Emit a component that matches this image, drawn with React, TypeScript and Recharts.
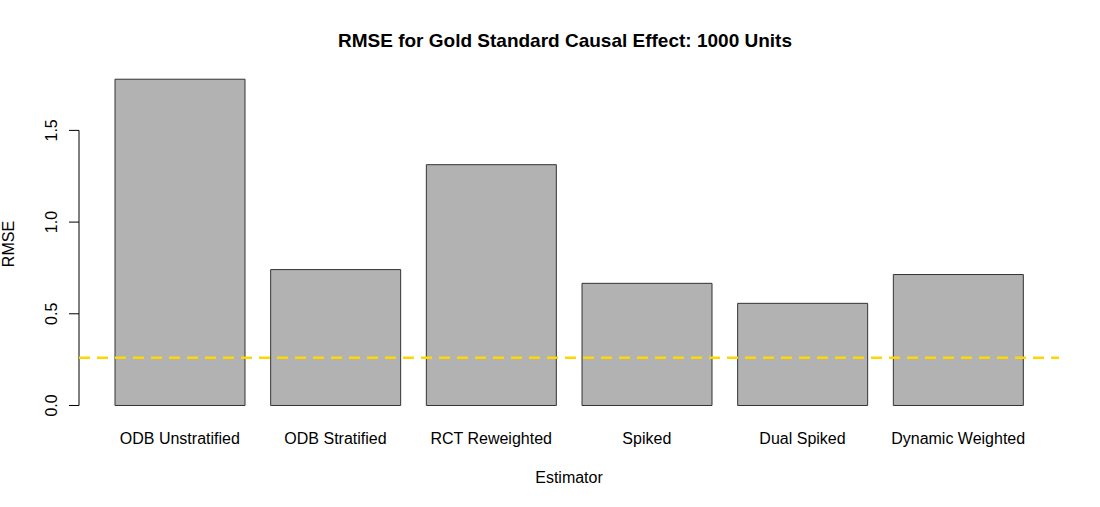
import React from 'react';
import { BarChart, Bar, XAxis, YAxis, ReferenceLine } from 'recharts';

const estimators = ['ODB Unstratified', 'ODB Stratified', 'RCT Reweighted', 'Spiked', 'Dual Spiked', 'Dynamic Weighted'];
const rmse = [1.779, 0.741, 1.313, 0.666, 0.557, 0.714];
const yTicks = [0, 0.5, 1.0, 1.5];
const goldStandard = 0.26;

const FONT = '"Liberation Sans", Arial, Helvetica, sans-serif';

const data = estimators.map((name, i) => ({ name, rmse: rmse[i] }));

function XTick({ x, y, payload }: any) {
    return (
        <text x={x} y={y + 22} textAnchor="middle" fontSize={16} fontFamily={FONT} fill="#000">
            {payload.value}
        </text>
    );
}

function YTick({ x, y, payload }: any) {
    const bx = x - 12;
    return (
        <text x={bx} y={y} transform={`rotate(-90, ${bx}, ${y})`} textAnchor="middle" fontSize={16} fontFamily={FONT} fill="#000">
            {payload.value.toFixed(1)}
        </text>
    );
}

export default function App() {
    return (
        <div style={{ position: 'relative', width: 1100, height: 507, background: '#fff', fontFamily: FONT }}>
            <style>{'body{margin:0}'}</style>
            <div style={{ position: 'absolute', left: 0, width: 1130, top: 30, textAlign: 'center', fontSize: 19, fontWeight: 'bold', lineHeight: '22px' }}>
                RMSE for Gold Standard Causal Effect: 1000 Units
            </div>
            <div style={{ position: 'absolute', left: 0, width: 1138, top: 468, textAlign: 'center', fontSize: 16, lineHeight: '20px' }}>
                Estimator
            </div>
            <div style={{ position: 'absolute', left: -41, top: 234, width: 100, textAlign: 'center', fontSize: 16, lineHeight: '20px', transform: 'rotate(-90deg)' }}>
                RMSE
            </div>
            <BarChart width={1100} height={507} data={data} margin={{ top: 66, right: 41, left: 0, bottom: 0 }} style={{ position: 'absolute', left: 0, top: 0 }}>
                <XAxis dataKey="name" height={85} axisLine={false} tickLine={false} tickSize={0} tickMargin={0}
                    padding={{ left: 23, right: 23 }} tick={<XTick />} interval={0} />
                <XAxis xAxisId="frame" type="number" domain={[0, 1]} hide allowDataOverflow />
                <YAxis width={79} domain={[-0.09, 1.851]} ticks={yTicks} axisLine={false} tickSize={10} tickMargin={0}
                    tickLine={{ stroke: '#000', strokeWidth: 1 }} tick={<YTick />} allowDataOverflow />
                <ReferenceLine xAxisId="frame" segment={[{ x: 0, y: 0 }, { x: 0, y: 1.5 }]} stroke="#000" strokeWidth={1} ifOverflow="visible" />
                <Bar dataKey="rmse" barSize={130} fill="#b2b2b2" stroke="#333" strokeWidth={1} isAnimationActive={false} />
                <ReferenceLine y={goldStandard} stroke="#ffd700" strokeWidth={2.5} strokeDasharray="11 7" />
            </BarChart>
        </div>
    );
}
